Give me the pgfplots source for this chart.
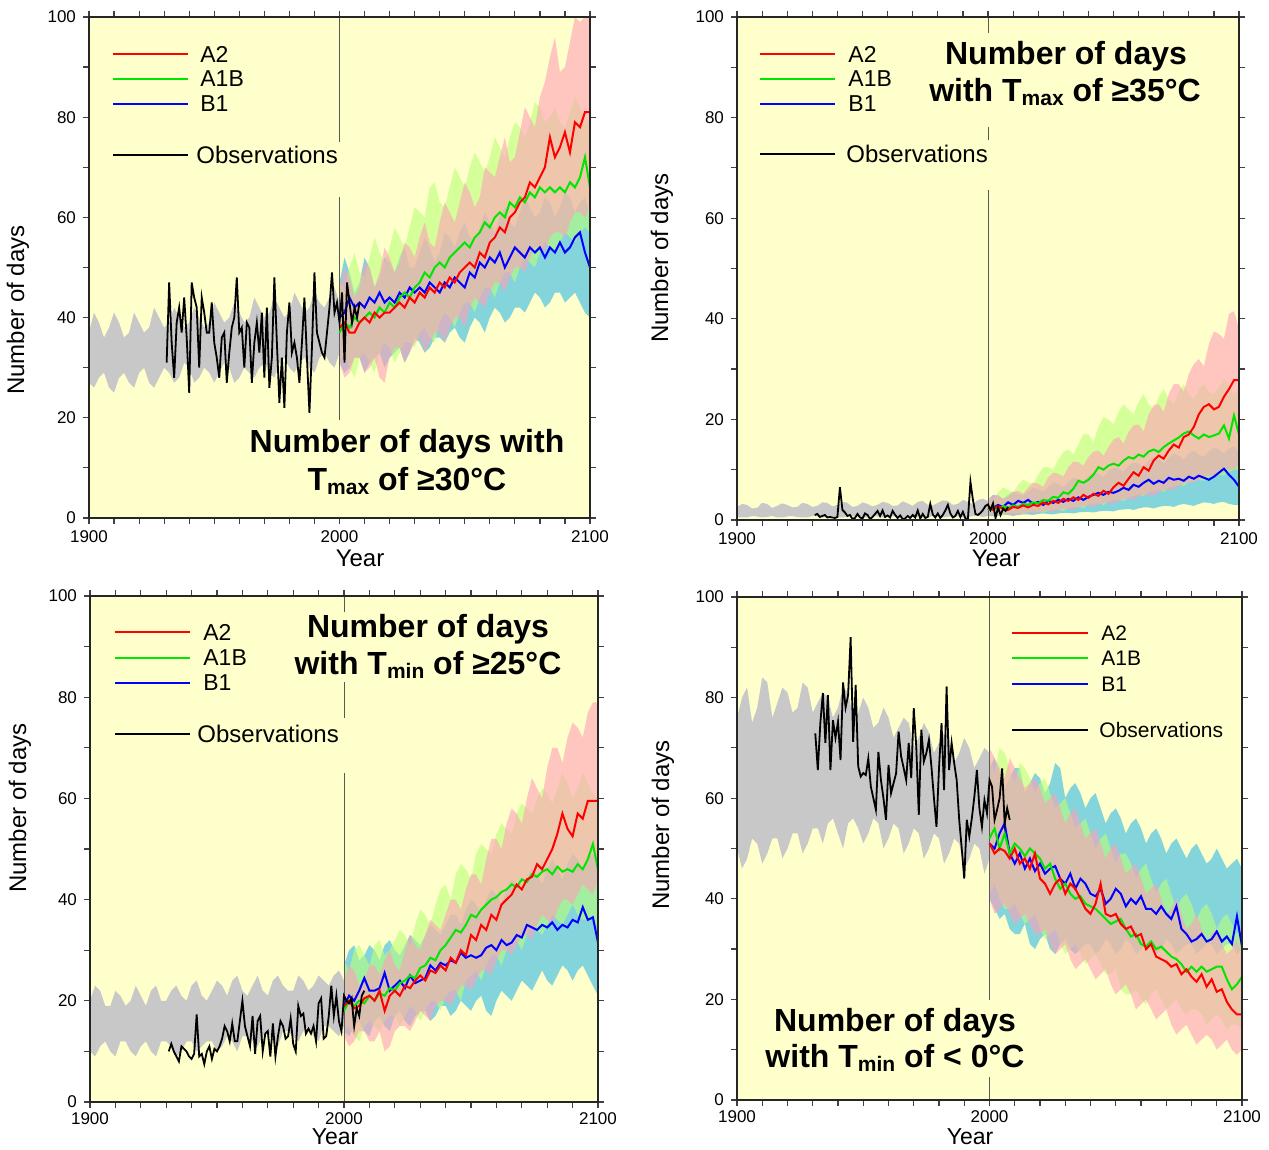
\documentclass[border=0pt]{standalone}
\usepackage{fontspec}
\setmainfont{Liberation Sans}
\usepackage{pgfplots}
\usepackage{pgfplotstable}
\pgfplotsset{compat=1.18}
\usepgfplotslibrary{fillbetween}

\definecolor{ybg}{RGB}{255,255,204}
\definecolor{gbg}{RGB}{200,200,200}
\definecolor{pinkA}{RGB}{255,160,185}
\definecolor{greenA}{RGB}{185,255,120}
\definecolor{cyanB}{RGB}{90,200,225}
\definecolor{lred}{RGB}{255,0,0}
\definecolor{lgreen}{RGB}{0,230,0}
\definecolor{lblue}{RGB}{0,0,255}

% ---------------- Panel 1: Tmax >= 30 ----------------
\pgfplotstableread{
x lo hi
1900 27 37
1902 26 41
1904 28 39
1906 29 36
1908 26 38
1910 25 41
1912 28 39
1914 29 36
1916 27 37
1918 26 41
1920 29 39
1922 30 37
1924 27 38
1926 26 42
1928 28 40
1930 30 38
1932 29 39
1934 27 42
1936 28 40
1938 31 38
1940 30 39
1942 27 42
1944 28 40
1946 30 38
1948 29 39
1950 27 43
1952 29 41
1954 31 39
1956 30 40
1958 27 43
1960 28 41
1962 30 39
1964 29 40
1966 28 44
1968 30 42
1970 31 40
1972 29 41
1974 28 44
1976 31 42
1978 32 40
1980 30 41
1982 29 45
1984 31 43
1986 32 41
1988 30 42
1990 29 45
1992 32 43
1994 33 42
1996 31 44
1998 30 46
2000 33 43
}\grayA
\pgfplotstableread{
x alo ahi glo ghi blo bhi
2000 31 46 31 47 31 47
2002 28 50 33 46 29 52
2004 29 48 30 50 30 49
2006 32 44 28 53 32 45
2008 32 46 32 49 32 47
2010 29 51 33 48 29 52
2012 30 50 31 52 31 50
2014 32 46 29 56 32 46
2016 28 49 33 53 33 48
2018 27 54 35 51 30 52
2020 32 52 34 54 32 51
2022 34 49 31 58 33 49
2024 34 51 33 56 34 52
2026 31 55 35 54 31 54
2028 33 54 35 58 33 50
2030 35 52 34 62 36 50
2032 36 56 37 61 35 53
2034 33 59 38 60 33 56
2036 35 55 36 66 34 54
2038 37 54 35 67 36 51
2040 37 59 39 63 36 53
2042 35 63 41 62 35 57
2044 38 61 40 66 37 56
2046 40 59 38 70 38 54
2048 40 63 41 68 36 57
2050 38 67 43 66 35 59
2052 42 65 43 70 38 56
2054 44 62 41 73 40 55
2056 43 64 44 71 39 58
2058 42 70 46 69 37 61
2060 45 69 46 72 40 59
2062 47 68 44 76 42 57
2064 47 72 47 74 41 60
2066 45 76 49 72 39 62
2068 48 71 49 76 40 59
2070 50 72 47 79 42 58
2072 50 77 50 78 42 61
2074 49 82 52 76 41 64
2076 52 80 51 79 43 62
2078 54 78 50 83 45 60
2080 54 84 53 82 44 61
2082 53 87 55 79 42 64
2084 56 92 54 80 43 63
2086 57 96 53 82 45 60
2088 57 89 55 79 45 62
2090 56 90 57 78 43 65
2092 59 95 56 81 44 64
2094 61 100 55 84 45 61
2096 61 99 57 82 43 63
2098 60 100 58 79 41 64
2100 62 100 57 80 40 60
}\envA
\pgfplotstableread{
x a g b
2000 38 37 40
2002 39 39 41
2004 37 38 44
2006 37 40 42
2008 39 39 43
2010 40 40 42
2012 39 41 44
2014 41 40 43
2016 40 42 45
2018 41 41 43
2020 41 43 44
2022 42 42 43
2024 43 44 45
2026 42 45 44
2028 44 44 46
2030 43 46 45
2032 45 47 46
2034 44 49 45
2036 46 48 47
2038 45 50 46
2040 47 51 45
2042 46 50 47
2044 48 52 46
2046 47 53 48
2048 49 54 47
2050 50 55 46
2052 51 54 49
2054 50 56 48
2056 53 57 51
2058 52 59 50
2060 55 58 52
2062 56 60 51
2064 58 61 53
2066 57 60 50
2068 60 63 52
2070 61 62 54
2072 63 64 53
2074 64 63 52
2076 67 65 54
2078 66 64 53
2080 68 66 54
2082 70 65 52
2084 76 66 54
2086 72 65 53
2088 74 66 55
2090 77 65 53
2092 73 67 54
2094 79 66 56
2096 78 68 57
2098 81 72 53
2100 81 66 50
}\linA
\pgfplotstableread{
x y
1931 31
1932 47
1933 35
1934 28
1935 39
1936 42
1937 37
1938 44
1939 36
1940 25
1941 47
1942 44
1943 42
1944 30
1945 44
1946 41
1947 37
1948 37
1949 43
1950 35
1951 32
1952 28
1953 36
1954 37
1955 27
1956 33
1957 38
1958 40
1959 48
1960 37
1961 38
1962 30
1963 39
1964 38
1965 27
1966 35
1967 39
1968 33
1969 41
1970 28
1971 42
1972 26
1973 32
1974 48
1975 35
1976 23
1977 32
1978 22
1979 37
1980 43
1981 33
1982 35
1983 32
1984 27
1985 35
1986 44
1987 32
1988 21
1989 34
1990 49
1991 37
1992 35
1993 33
1994 32
1995 37
1996 42
1997 49
1998 41
1999 43
2000 39
2001 45
2002 31
2003 47
2004 43
2005 39
2006 42
2007 40
2008 43
}\obsA

% ---------------- Panel 2: Tmax >= 35 ----------------
\pgfplotstableread{
x lo hi
1900 0.6 2.6
1902 0.5 3.2
1904 0.5 3.0
1906 0.8 2.3
1908 0.7 2.4
1910 0.5 3.4
1912 0.6 3.2
1914 0.8 2.4
1916 0.5 2.8
1918 0.5 3.3
1920 0.7 3.0
1922 0.8 2.5
1924 0.6 2.6
1926 0.5 3.4
1928 0.5 3.2
1930 0.8 2.6
1932 0.7 2.8
1934 0.5 3.5
1936 0.6 3.4
1938 0.8 2.7
1940 0.5 3.0
1942 0.5 3.6
1944 0.7 3.4
1946 0.8 2.6
1948 0.6 2.8
1950 0.5 3.5
1952 0.5 3.2
1954 0.8 2.7
1956 0.7 3.0
1958 0.5 3.6
1960 0.6 3.4
1962 0.8 2.8
1964 0.5 2.9
1966 0.5 3.7
1968 0.7 3.3
1970 0.8 2.8
1972 0.6 3.6
1974 0.5 3.8
1976 0.5 3.0
1978 0.8 2.9
1980 0.7 3.4
1982 0.5 3.9
1984 0.6 3.8
1986 0.8 3.0
1988 0.7 3.2
1990 0.5 4.0
1992 0.6 3.6
1994 0.8 3.1
1996 0.8 4.0
1998 0.6 4.2
2000 0.8 3.8
}\grayB
\pgfplotstableread{
x alo ahi glo ghi blo bhi
2000 1.0 4.0 1.0 4.5 0.8 4.0
2002 0.9 4.8 1.2 4.0 0.7 5.0
2004 1.0 5.0 1.1 5.5 0.8 4.8
2006 1.2 4.2 1.0 6.5 1.0 4.2
2008 1.2 4.6 1.2 6.0 1.0 5.0
2010 1.0 5.6 1.4 5.4 0.8 5.6
2012 1.0 5.8 1.3 7.0 1.0 5.2
2014 1.3 5.2 1.2 8.0 1.1 4.8
2016 1.4 6.4 1.5 7.5 1.1 5.6
2018 1.2 7.4 1.7 7.2 1.0 6.4
2020 1.5 7.2 1.6 9.0 1.2 6.2
2022 1.7 6.6 1.5 10.5 1.3 5.6
2024 1.8 8.5 1.8 10.5 1.2 6.6
2026 1.6 9.4 2.0 10.0 1.1 7.4
2028 2.0 9.2 2.0 12.0 1.3 7.2
2030 2.2 8.6 1.8 13.5 1.4 6.6
2032 2.2 10.5 2.3 14.0 1.4 7.6
2034 2.0 11.6 2.5 13.0 1.3 8.4
2036 2.5 11.5 2.6 15.0 1.5 8.2
2038 2.7 10.8 2.4 17.0 1.6 7.6
2040 2.8 12.5 3.0 17.0 1.6 8.8
2042 2.6 13.6 3.2 15.5 1.5 9.4
2044 3.0 13.8 3.3 18.5 1.7 9.2
2046 3.3 12.8 3.0 20.5 1.8 8.6
2048 3.4 14.5 3.7 20.0 1.8 9.8
2050 3.2 16.0 3.9 19.0 1.7 10.4
2052 3.8 16.5 4.0 21.5 2.0 10.2
2054 4.1 15.2 3.8 23.0 2.1 9.6
2056 4.2 17.5 4.5 22.0 2.2 10.8
2058 4.0 18.8 4.8 21.0 2.0 11.4
2060 4.6 19.0 5.0 23.5 2.3 11.2
2062 5.0 17.6 4.8 25.0 2.5 10.4
2064 5.0 21.0 5.5 23.0 2.5 11.8
2066 4.8 22.8 5.8 22.0 2.3 12.6
2068 5.5 23.0 6.0 24.5 2.6 12.2
2070 6.0 21.5 5.6 26.0 2.8 11.2
2072 6.0 25.0 6.5 24.0 2.8 12.4
2074 6.0 27.0 6.8 23.0 2.6 13.2
2076 6.8 27.0 7.0 25.5 3.0 12.8
2078 7.2 25.5 6.8 27.0 3.2 12.0
2080 7.5 29.0 7.5 25.0 3.0 13.2
2082 7.4 31.0 7.8 24.0 2.8 13.8
2084 8.0 32.0 8.0 26.0 3.2 13.0
2086 8.6 30.5 7.8 27.0 3.5 12.6
2088 8.8 35.0 8.5 25.5 3.4 13.6
2090 8.8 37.5 8.8 25.0 3.2 14.4
2092 9.5 37.0 9.0 26.5 3.5 14.0
2094 10.0 36.0 8.8 28.0 3.6 13.2
2096 10.0 41.0 9.5 27.0 3.2 14.2
2098 10.0 41.5 10.0 25.0 3.0 14.6
2100 11.0 38.0 10.0 26.0 3.0 13.5
}\envB
\pgfplotstableread{
x a g b
2000 2.5 2.0 2.0
2002 2.0 2.6 2.4
2004 2.8 2.2 3.0
2006 2.2 2.8 2.6
2008 2.0 2.4 3.5
2010 2.6 2.9 3.0
2012 2.4 2.6 3.8
2014 2.9 3.2 3.4
2016 2.5 3.0 4.0
2018 3.0 3.5 3.2
2020 2.8 3.3 3.6
2022 3.5 4.0 3.0
2024 3.1 3.8 3.8
2026 3.8 4.6 3.4
2028 3.4 4.4 4.0
2030 4.2 5.5 3.6
2032 3.8 5.2 4.2
2034 4.5 6.2 3.8
2036 4.0 7.8 4.5
2038 5.0 7.4 4.0
2040 4.4 8.0 4.6
2042 5.2 9.0 5.0
2044 4.8 10.5 5.4
2046 5.8 10.0 5.0
2048 5.2 10.8 5.6
2050 6.5 11.2 5.4
2052 7.4 10.8 5.8
2054 6.8 11.8 6.4
2056 8.2 12.5 6.0
2058 9.5 12.2 7.0
2060 8.8 13.0 6.6
2062 10.5 12.6 7.4
2064 9.8 13.6 8.0
2066 11.8 14.0 7.2
2068 12.8 13.5 7.8
2070 12.2 14.5 7.4
2072 13.8 15.2 8.4
2074 15.0 15.8 8.0
2076 14.4 16.4 8.2
2078 16.5 17.2 7.8
2080 17.0 17.6 8.6
2082 18.5 16.8 8.2
2084 21.0 16.2 8.8
2086 22.5 17.0 8.4
2088 23.0 16.5 8.0
2090 22.0 16.8 8.6
2092 22.5 17.2 9.4
2094 24.5 18.8 10.2
2096 26.0 16.2 9.0
2098 27.8 20.8 8.0
2100 27.8 17.0 6.6
}\linB
\pgfplotstableread{
x y
1931 1.0
1932 1.2
1933 0.6
1934 0.8
1935 1.0
1936 0.5
1937 0.6
1938 0.5
1939 0.4
1940 0.6
1941 6.5
1942 2.0
1943 1.5
1944 0.8
1945 1.0
1946 0.2
1947 0.4
1948 1.2
1949 0.5
1950 0.3
1951 1.3
1952 1.0
1953 0.2
1954 0.6
1955 1.2
1956 1.8
1957 0.8
1958 1.9
1959 0.6
1960 0.9
1961 0.5
1962 1.8
1963 1.0
1964 0.4
1965 0.9
1966 0.2
1967 0.3
1968 0.8
1969 0.4
1970 1.0
1971 0.5
1972 1.9
1973 0.3
1974 1.2
1975 0.4
1976 0.6
1977 3.2
1978 1.1
1979 0.5
1980 1.3
1981 0.4
1982 1.0
1983 1.9
1984 3.0
1985 1.3
1986 0.5
1987 0.8
1988 1.8
1989 0.6
1990 1.6
1991 0.3
1992 0.2
1993 7.6
1994 4.0
1995 1.2
1996 1.0
1997 1.4
1998 2.0
1999 2.8
2000 3.1
2001 2.0
2002 3.3
2003 0.4
2004 2.5
2005 1.0
2006 2.2
2007 1.8
2008 2.6
}\obsB

% ---------------- Panel 3: Tmin >= 25 ----------------
\pgfplotstableread{
x lo hi
1900 10 20
1902 9 23
1904 11 22
1906 12 19
1908 10 19
1910 9 22
1912 12 21
1914 12 19
1916 10 20
1918 9 23
1920 11 21
1922 12 19
1924 10 22
1926 9 23
1928 12 20
1930 12 20
1932 11 22
1934 9 23
1936 10 21
1938 12 20
1940 12 23
1942 10 24
1944 11 21
1946 12 20
1948 12 22
1950 10 24
1952 11 23
1954 13 21
1956 12 24
1958 10 25
1960 13 22
1962 13 21
1964 12 23
1966 11 25
1968 13 22
1970 14 21
1972 12 24
1974 11 25
1976 14 23
1978 14 22
1980 13 22
1982 12 25
1984 14 24
1986 15 22
1988 13 23
1990 12 25
1992 15 24
1994 15 23
1996 14 25
1998 13 26
2000 15 24
}\grayC
\pgfplotstableread{
x alo ahi glo ghi blo bhi
2000 13 24 14 28 14 27
2002 11 27 15 26 13 30
2004 12 26 13 30 15 31
2006 14 23 12 31 16 28
2008 14 24 15 29 14 29
2010 12 27 16 27 13 31
2012 12 27 15 31 16 30
2014 14 25 14 32 17 28
2016 10 28 16 29 15 31
2018 11 30 17 30 14 32
2020 14 27 17 32 17 30
2022 15 26 15 34 18 29
2024 15 30 17 33 16 31
2026 14 33 19 31 15 33
2028 16 31 18 35 17 32
2030 18 30 16 38 18 31
2032 17 33 18 37 18 33
2034 16 36 20 35 16 35
2036 19 35 20 39 17 34
2038 20 34 18 42 19 33
2040 20 37 21 43 19 35
2042 19 40 22 40 17 37
2044 21 40 22 45 18 37
2046 23 38 20 47 20 35
2048 23 42 24 46 19 38
2050 22 45 25 44 18 40
2052 24 45 26 49 20 39
2054 26 43 24 51 21 37
2056 26 48 27 50 18 40
2058 25 52 29 49 17 42
2060 28 52 29 53 20 41
2062 30 50 27 55 22 39
2064 30 55 30 54 21 42
2066 29 58 32 53 20 44
2068 31 57 32 57 22 43
2070 33 55 30 59 24 41
2072 33 60 33 58 23 44
2074 32 64 35 57 22 46
2076 35 62 34 60 24 45
2078 37 60 33 62 26 43
2080 36 66 35 61 24 46
2082 35 70 37 59 23 48
2084 38 70 36 62 25 46
2086 40 67 35 65 27 44
2088 40 72 37 63 26 47
2090 39 75 39 60 24 49
2092 41 74 37 62 26 48
2094 43 72 36 65 27 46
2096 42 77 36 63 25 48
2098 41 79 37 61 23 49
2100 44 79 34 60 21 47
}\envC
\pgfplotstableread{
x a g b
2000 19 18 19
2002 20 20 21
2004 18.5 19 20
2006 19 20 22
2008 20.5 19.5 24.5
2010 21 21 22
2012 20 20 22
2014 22 21.5 22.5
2016 18 21 25.5
2018 21 22.5 22
2020 22 22 23
2022 21 23.5 24
2024 23 24 22.5
2026 22.5 25 25
2028 24 24.5 23.5
2030 25 26.5 24
2032 24 27 24.5
2034 26 28.5 27
2036 25.5 28 26
2038 27 30 27.5
2040 26 31 27
2042 28.5 32.5 28
2044 27.5 34 27.5
2046 30 33.5 29.5
2048 29 35 28.5
2050 33 37 29
2052 32 36.5 28.5
2054 35 38 29
2056 34 39 30.5
2058 37 40 31
2060 36 40.5 30
2062 39 41.5 32
2064 40 42 31
2066 41 43 31.5
2068 43 42.5 33
2070 42 44 32.5
2072 44 43.5 35
2074 44.5 45 34.5
2076 47 44.5 34
2078 46 45.5 35
2080 48 46 34.5
2082 50 45 35.5
2084 53 46.5 34
2086 57 45.5 35
2088 54 46 34.5
2090 52.5 45.5 36
2092 57 47 35.5
2094 56 46 38.5
2096 59.5 48 36
2098 59.5 51 36.5
2100 59.5 46 31.5
}\linC
\pgfplotstableread{
x y
1931 10.0
1932 11.5
1933 10.0
1934 9.0
1935 8.0
1936 11.0
1937 10.5
1938 10.0
1939 9.0
1940 8.5
1941 9.5
1942 17.3
1943 9.0
1944 9.5
1945 7.5
1946 10.0
1947 11.0
1948 8.5
1949 10.5
1950 10.0
1951 11.0
1952 12.5
1953 15.0
1954 14.0
1955 12.0
1956 15.5
1957 12.0
1958 12.0
1959 16.0
1960 20.0
1961 15.0
1962 13.0
1963 11.0
1964 17.0
1965 9.5
1966 16.0
1967 17.0
1968 10.0
1969 13.5
1970 14.0
1971 9.0
1972 15.5
1973 9.0
1974 13.0
1975 16.0
1976 15.0
1977 12.5
1978 13.0
1979 16.5
1980 11.5
1981 10.0
1982 19.0
1983 17.0
1984 17.5
1985 13.5
1986 14.5
1987 13.5
1988 15.0
1989 12.0
1990 19.5
1991 20.5
1992 12.5
1993 13.0
1994 17.0
1995 23.0
1996 17.0
1997 21.0
1998 16.0
1999 14.0
2000 21.0
2001 20.0
2002 19.5
2003 20.5
2004 15.0
2005 18.5
2006 17.0
2007 21.0
2008 22.0
}\obsC

% ---------------- Panel 4: Tmin < 0 ----------------
\pgfplotstableread{
x lo hi
1900 50 76
1902 46 80
1904 48 82
1906 52 75
1908 51 78
1910 47 84
1912 49 83
1914 52 76
1916 52 79
1918 48 82
1920 50 81
1922 53 77
1924 53 78
1926 49 83
1928 51 82
1930 54 77
1932 54 79
1934 51 81
1936 55 80
1938 56 76
1940 53 78
1942 50 82
1944 55 81
1946 56 76
1948 54 77
1950 51 80
1952 53 78
1954 56 74
1956 55 75
1958 50 78
1960 52 76
1962 55 72
1964 54 74
1966 49 76
1968 51 75
1970 54 70
1972 53 72
1974 48 75
1976 50 73
1978 53 69
1980 52 71
1982 47 73
1984 49 72
1986 52 67
1988 51 69
1990 46 72
1992 48 70
1994 51 66
1996 50 68
1998 45 70
2000 48 69
}\grayD
\pgfplotstableread{
x alo ahi glo ghi blo bhi
2000 40 70 41 68 40 66
2002 37 68 43 65 38 68
2004 38 66 40 70 36 65
2006 39 64 38 69 37 62
2008 37 68 38 66 34 64
2010 35 66 39 63 33 66
2012 36 64 37 67 33 66
2014 37 62 35 66 35 61
2016 35 63 36 64 31 63
2018 33 64 37 61 30 65
2020 33 62 34 63 32 64
2022 34 59 32 64 33 61
2024 31 60 33 61 30 63
2026 29 61 34 58 29 67
2028 30 58 31 59 31 66
2030 31 55 29 60 32 60
2032 28 57 30 57 30 62
2034 26 58 31 54 29 63
2036 27 55 29 55 30 61
2038 28 52 27 56 31 58
2040 26 53 28 53 31 60
2042 24 54 29 50 29 61
2044 25 51 27 52 30 58
2046 26 48 25 53 32 55
2048 23 50 25 50 31 57
2050 21 51 26 47 29 58
2052 22 48 22 49 30 56
2054 23 45 21 49 32 53
2056 21 46 21 47 31 55
2058 18 47 22 44 29 56
2060 19 44 20 46 30 54
2062 20 41 19 47 31 51
2064 18 42 21 44 31 53
2066 16 43 22 41 29 54
2068 17 40 20 43 30 52
2070 18 37 18 44 32 49
2072 15 38 19 41 31 51
2074 13 40 20 38 29 52
2076 14 37 18 40 30 50
2078 15 34 17 41 31 48
2080 13 35 18 39 31 50
2082 11 37 18 36 29 51
2084 12 34 17 38 30 49
2086 13 31 15 39 31 47
2088 12 33 16 37 31 48
2090 10 34 17 34 29 50
2092 11 31 16 36 30 48
2094 12 29 14 37 31 46
2096 10 30 15 35 31 47
2098 9 32 15 33 29 48
2100 10 29 14 34 30 46
}\envD
\pgfplotstableread{
x a g b
2000 51 52 51
2002 49 54 50
2004 50 50 53
2006 49.5 53 55
2008 48 49 49
2010 50 51 47
2012 47 50 49
2014 48 48.5 46
2016 46 50 48
2018 49 49 45.5
2020 44 48 47
2022 43 46 45
2024 41 47 46
2026 43 44 46.5
2028 44 42 44
2030 41 43 43
2032 43 41 45
2034 42 40 42
2036 40 40.5 44
2038 38 39 43
2040 37 38.5 41
2042 39 38 40.5
2044 43 37 42
2046 37 36 39
2048 36.5 35 40
2050 37 35.5 42
2052 35 36 41
2054 34 34 38.5
2056 34.5 32.5 40
2058 32.5 33 39
2060 33 31 40.5
2062 30 30.5 38
2064 31 31.5 38
2066 28.5 30 37
2068 28 30.5 38.5
2070 27.5 29.5 37
2072 26.5 28.5 36
2074 27 28 38.5
2076 25 27 34
2078 26 25.5 33
2080 24.5 26.5 31.5
2082 23.5 25.5 32
2084 25 26.5 33
2086 22.5 25.5 31.5
2088 24 26 32
2090 21.5 26.5 33.5
2092 22 26.5 31.5
2094 19.5 24 32.5
2096 18 22 31
2098 17 23 36.5
2100 17 24.5 30.5
}\linD
\pgfplotstableread{
x y
1931 72.9
1932 65.6
1933 74.9
1934 80.9
1935 71.0
1936 80.5
1937 65.6
1938 75.5
1939 72.0
1940 75.2
1941 67.6
1942 83.0
1943 78.0
1944 80.5
1945 92.0
1946 71.2
1947 82.5
1948 66.3
1949 64.3
1950 65.0
1951 64.6
1952 67.9
1953 62.3
1954 60.0
1955 57.7
1956 69.2
1957 63.6
1958 60.0
1959 55.7
1960 66.6
1961 61.0
1962 63.0
1963 64.9
1964 73.2
1965 68.3
1966 66.0
1967 63.6
1968 71.0
1969 64.0
1970 77.9
1971 70.2
1972 56.7
1973 73.6
1974 67.3
1975 69.0
1976 71.6
1977 66.3
1978 60.0
1979 54.3
1980 66.0
1981 74.9
1982 61.6
1983 82.2
1984 65.6
1985 71.0
1986 67.0
1987 63.6
1988 55.7
1989 50.0
1990 44.0
1991 55.7
1992 52.4
1993 56.0
1994 60.3
1995 65.6
1996 58.0
1997 54.3
1998 59.6
1999 57.0
2000 63.6
2001 62.3
2002 55.7
2003 57.7
2004 60.0
2005 65.9
2006 55.0
2007 58.0
2008 55.7
}\obsD

\pgfplotsset{
  panel/.style={
    scale only axis, anchor=south west,
    xmin=1900, xmax=2100, ymin=0, ymax=100,
    axis background/.style={fill=ybg},
    xtick={1900,2000,2100}, xticklabels={1900,2000,2100},
    minor xtick={1910,1920,1930,1940,1950,1960,1970,1980,1990,2010,2020,2030,2040,2050,2060,2070,2080,2090},
    ytick={0,20,40,60,80,100}, yticklabels={0,20,40,60,80,100},
    minor ytick={10,30,50,70,90},
    tick align=outside,
    major tick length=3pt, minor tick length=3pt,
    tick style={black!75, line width=0.6pt},
    axis line style={black!85, line width=1pt},
    ticklabel style={font=\fontsize{8.5}{10}\selectfont},
    axis on top,
  }
}

\newcommand{\panelfills}[2]{%
  \addplot[draw=none, mark=none, name path=gu] table[x=x,y=hi]{#1};
  \addplot[draw=none, mark=none, name path=gl] table[x=x,y=lo]{#1};
  \addplot[fill=gbg, draw=none] fill between[of=gu and gl];
  \addplot[draw=none, mark=none, name path=bu] table[x=x,y=bhi]{#2};
  \addplot[draw=none, mark=none, name path=bl] table[x=x,y=blo]{#2};
  \addplot[fill=cyanB, fill opacity=0.75, draw=none] fill between[of=bu and bl];
  \addplot[draw=none, mark=none, name path=cu] table[x=x,y=ghi]{#2};
  \addplot[draw=none, mark=none, name path=cl] table[x=x,y=glo]{#2};
  \addplot[fill=greenA, fill opacity=0.6, draw=none] fill between[of=cu and cl];
  \addplot[draw=none, mark=none, name path=au] table[x=x,y=ahi]{#2};
  \addplot[draw=none, mark=none, name path=al] table[x=x,y=alo]{#2};
  \addplot[fill=pinkA, fill opacity=0.6, draw=none] fill between[of=au and al];
}
\newcommand{\panellines}[2]{%
  \addplot[lblue, mark=none, line width=1pt] table[x=x,y=b]{#1};
  \addplot[lgreen, mark=none, line width=1pt] table[x=x,y=g]{#1};
  \addplot[lred, mark=none, line width=1pt] table[x=x,y=a]{#1};
  \addplot[black, mark=none, line width=0.9pt] table[x=x,y=y]{#2};
}
\tikzset{vl/.style={black!65, line width=0.5pt}}
\newcommand{\subs}[1]{{\fontsize{10.5}{11}\selectfont\raisebox{-2.2pt}{#1}}}

\begin{document}
\begin{tikzpicture}

% ---- Panel 1 ----
\begin{axis}[panel, at={(44.5pt,316pt)}, width=250.5pt, height=250.5pt]
\panelfills{\grayA}{\envA}
\draw[vl] (axis cs:2000,100) -- (axis cs:2000,75);
\draw[vl] (axis cs:2000,64) -- (axis cs:2000,19.6);
\panellines{\linA}{\obsA}
\end{axis}

% ---- Panel 2 ----
\begin{axis}[panel, at={(368.5pt,315pt)}, width=251pt, height=251.5pt]
\panelfills{\grayB}{\envB}
\draw[vl] (axis cs:2000,100) -- (axis cs:2000,96.8);
\draw[vl] (axis cs:2000,78.1) -- (axis cs:2000,75.5);
\draw[vl] (axis cs:2000,65.6) -- (axis cs:2000,0);
\panellines{\linB}{\obsB}
\end{axis}

% ---- Panel 3 ----
\begin{axis}[panel, at={(45pt,24pt)}, width=254pt, height=253pt, xticklabel style={yshift=1pt}]
\panelfills{\grayC}{\envC}
\draw[vl] (axis cs:2000,100) -- (axis cs:2000,96.8);
\draw[vl] (axis cs:2000,83) -- (axis cs:2000,75.9);
\draw[vl] (axis cs:2000,65) -- (axis cs:2000,0);
\panellines{\linC}{\obsC}
\end{axis}

% ---- Panel 4 ----
\begin{axis}[panel, at={(368.5pt,25pt)}, width=252.5pt, height=251.5pt, xticklabel style={yshift=1pt}]
\panelfills{\grayD}{\envD}
\draw[vl] (axis cs:2000,100) -- (axis cs:2000,19.9);
\draw[vl] (axis cs:2000,4.6) -- (axis cs:2000,0);
\panellines{\linD}{\obsD}
\end{axis}

% ---- axis labels ----
\begin{scope}[every node/.style={font=\fontsize{12}{14}\selectfont, inner sep=0pt}]
\node[rotate=90] at (9pt,420pt) {Number of days};
\node[rotate=90] at (331pt,446pt) {Number of days};
\node[rotate=90] at (10pt,171pt) {Number of days};
\node[rotate=90] at (331.5pt,162.5pt) {Number of days};
\node at (180pt,296pt) {Year};
\node at (498pt,296pt) {Year};
\node[font=\fontsize{11.5}{13}\selectfont] at (167.5pt,6.5pt) {Year};
\node[font=\fontsize{11.5}{13}\selectfont] at (485pt,6.5pt) {Year};
\end{scope}

% ---- legends ----
\begin{scope}[every node/.style={inner sep=0pt, anchor=west}]
\draw[lred, line width=1pt] (56.5pt,548pt) -- (94pt,548pt);
\draw[lgreen, line width=1pt] (56.5pt,535.5pt) -- (94pt,535.5pt);
\draw[lblue, line width=1pt] (56.5pt,523pt) -- (94pt,523pt);
\draw[black, line width=1pt] (56.5pt,497.5pt) -- (94pt,497.5pt);
\node[font=\fontsize{11.5}{13}\selectfont] at (100pt,548pt) {A2};
\node[font=\fontsize{11.5}{13}\selectfont] at (100pt,535.5pt) {A1B};
\node[font=\fontsize{11.5}{13}\selectfont] at (100pt,523pt) {B1};
\node[font=\fontsize{12}{14}\selectfont] at (98pt,497.5pt) {Observations};
\draw[lred, line width=0.8pt] (380pt,548pt) -- (417.5pt,548pt);
\draw[lgreen, line width=1pt] (380pt,535.5pt) -- (417.5pt,535.5pt);
\draw[lblue, line width=0.8pt] (380pt,523pt) -- (417.5pt,523pt);
\draw[black, line width=1pt] (380pt,498pt) -- (417.5pt,498pt);
\node[font=\fontsize{11.5}{13}\selectfont] at (424pt,548pt) {A2};
\node[font=\fontsize{11.5}{13}\selectfont] at (424pt,535.5pt) {A1B};
\node[font=\fontsize{11.5}{13}\selectfont] at (424pt,523pt) {B1};
\node[font=\fontsize{12}{14}\selectfont] at (423pt,498pt) {Observations};
\draw[lred, line width=0.8pt] (57.5pt,259pt) -- (95pt,259pt);
\draw[lgreen, line width=1pt] (57.5pt,246pt) -- (95pt,246pt);
\draw[lblue, line width=1pt] (57.5pt,233.5pt) -- (95pt,233.5pt);
\draw[black, line width=1pt] (57.5pt,208pt) -- (95pt,208pt);
\node[font=\fontsize{11.5}{13}\selectfont] at (101.5pt,259pt) {A2};
\node[font=\fontsize{11.5}{13}\selectfont] at (101.5pt,246pt) {A1B};
\node[font=\fontsize{11.5}{13}\selectfont] at (101.5pt,233.5pt) {B1};
\node[font=\fontsize{12}{14}\selectfont] at (98.5pt,208pt) {Observations};
\draw[lred, line width=1pt] (506pt,258.5pt) -- (544pt,258.5pt);
\draw[lgreen, line width=1pt] (506pt,246pt) -- (544pt,246pt);
\draw[lblue, line width=1pt] (506pt,233pt) -- (544pt,233pt);
\draw[black, line width=1pt] (506pt,210pt) -- (544pt,210pt);
\node[font=\fontsize{10.5}{12}\selectfont] at (550.5pt,258.5pt) {A2};
\node[font=\fontsize{10.5}{12}\selectfont] at (550.5pt,246pt) {A1B};
\node[font=\fontsize{10.5}{12}\selectfont] at (550.5pt,233pt) {B1};
\node[font=\fontsize{10.5}{12}\selectfont] at (549.5pt,210pt) {Observations};
\end{scope}

% ---- titles ----
\begin{scope}[every node/.style={inner sep=0pt, anchor=base, font=\fontsize{16}{18}\selectfont\bfseries}]
\node at (203.5pt,348.75pt) {Number of days with};
\node at (203.5pt,329.75pt) {T\subs{max} of ≥30°C};
\node at (533pt,542.75pt) {Number of days};
\node at (532.5pt,524.25pt) {with T\subs{max} of ≥35°C};
\node at (214pt,256.25pt) {Number of days};
\node at (214pt,237.75pt) {with T\subs{min} of ≥25°C};
\node at (447.5pt,59.25pt) {Number of days};
\node at (447.5pt,41.25pt) {with T\subs{min} of < 0°C};
\end{scope}

\path (0pt,0pt) rectangle (634.5pt,575pt);
\end{tikzpicture}
\end{document}
